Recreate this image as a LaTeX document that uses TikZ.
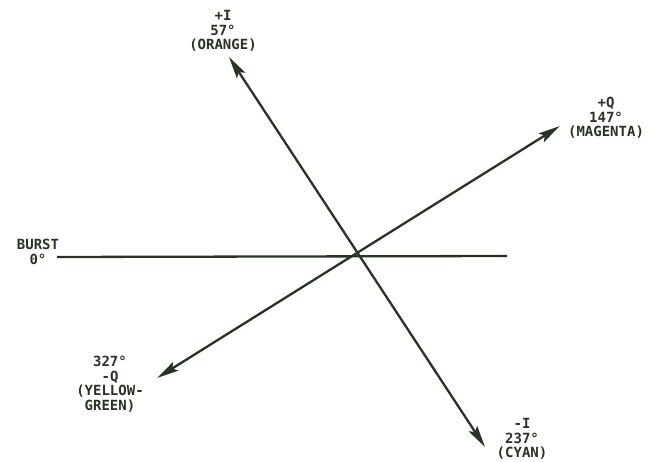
\documentclass[tikz,border=0pt]{standalone}
\usepackage{fontspec}
\setmonofont{DejaVu Sans Mono}
\usepackage{tikz}
\usetikzlibrary{arrows.meta}
\usepackage{xcolor}
\definecolor{ink}{HTML}{2A3126}
\tikzset{vector/.style={draw=ink,line width=2.3pt,{Stealth[length=22pt,width=10pt,inset=4pt]}-{Stealth[length=22pt,width=10pt,inset=4pt]}},refline/.style={draw=ink,line width=2.3pt},phaselabel/.style={text=ink,font=\fontsize{14}{14.5}\selectfont\ttfamily\bfseries,align=center,inner sep=0pt}}

\begin{document}
\begin{tikzpicture}[x=1pt,y=1pt]
\useasboundingbox (0,0) rectangle (656,461);
\coordinate (ipos) at (229,404);\coordinate (ineg) at (485,14);
\coordinate (qpos) at (560,335);\coordinate (qneg) at (157,83);
\coordinate (bleft) at (57,204);\coordinate (bright) at (507,205);
\draw[refline] (bleft)--(bright);
\draw[vector] (ineg)--(ipos);
\draw[vector] (qneg)--(qpos);
\node[phaselabel] (plusi) at (223,430) {+I\\57°\\(ORANGE)};
\node[phaselabel] (plusq) at (606,343) {+Q\\147°\\(MAGENTA)};
\node[phaselabel] (burst) at (38,209) {BURST\\0°};
\node[phaselabel] (minusq) at (110,77) {327°\\-Q\\(YELLOW-\\GREEN)};
\node[phaselabel] (minusi) at (522,22) {-I\\237°\\(CYAN)};
\end{tikzpicture}
\end{document}
